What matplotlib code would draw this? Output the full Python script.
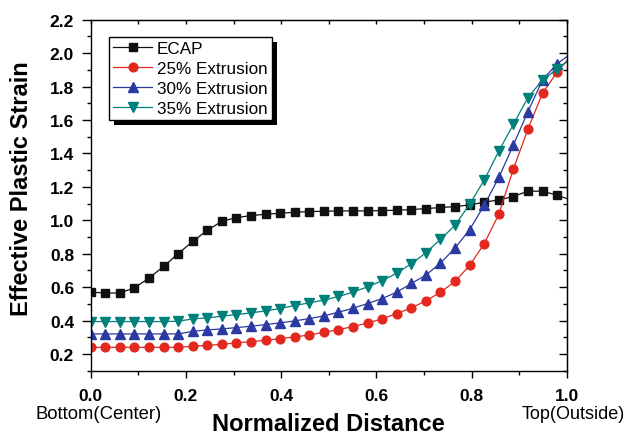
import numpy as np
import matplotlib.pyplot as plt
import matplotlib.patheffects as pe
from matplotlib.ticker import MultipleLocator, FormatStrFormatter

plt.rcParams['font.family'] = ['Liberation Sans', 'DejaVu Sans']

# normalized distance, evenly spaced nodes (last node sits just past the frame)
x = np.arange(34) * 0.0306

ecap = [0.57, 0.565, 0.565, 0.596, 0.654, 0.724, 0.80, 0.874, 0.94, 0.994,
        1.016, 1.028, 1.036, 1.042, 1.048, 1.052, 1.054, 1.056, 1.056, 1.056,
        1.058, 1.06, 1.064, 1.07, 1.076, 1.082, 1.092, 1.108, 1.122, 1.142,
        1.174, 1.174, 1.15, 1.12]
ext25 = [0.24, 0.24, 0.24, 0.24, 0.24, 0.24, 0.24, 0.246, 0.252, 0.258,
         0.266, 0.274, 0.282, 0.292, 0.302, 0.314, 0.33, 0.346, 0.364, 0.386,
         0.41, 0.442, 0.476, 0.518, 0.57, 0.634, 0.73, 0.86, 1.036, 1.306,
         1.546, 1.76, 1.886, 1.99]
ext30 = [0.32, 0.32, 0.32, 0.32, 0.32, 0.32, 0.32, 0.336, 0.344, 0.35,
         0.358, 0.366, 0.376, 0.386, 0.398, 0.412, 0.428, 0.45, 0.474, 0.502,
         0.532, 0.57, 0.622, 0.672, 0.744, 0.834, 0.944, 1.09, 1.256, 1.45,
         1.65, 1.84, 1.936, 2.0]
ext35 = [0.394, 0.394, 0.394, 0.394, 0.394, 0.394, 0.396, 0.41, 0.416, 0.426,
         0.436, 0.446, 0.458, 0.472, 0.49, 0.506, 0.522, 0.544, 0.57, 0.602,
         0.638, 0.684, 0.74, 0.806, 0.886, 0.97, 1.096, 1.24, 1.414, 1.574,
         1.734, 1.84, 1.904, 1.97]

series = [
    (ecap, 'ECAP', 's', '#111111', 5.8),
    (ext25, '25% Extrusion', 'o', '#e2281f', 6.3),
    (ext30, '30% Extrusion', '^', '#2b3aa0', 6.6),
    (ext35, '35% Extrusion', 'v', '#00807a', 6.6),
]

fig = plt.figure(figsize=(6.27, 4.35), dpi=100)
ax = fig.add_axes([0.1447, 0.1455, 0.7596, 0.8069])

for y, lab, mk, col, ms in series:
    ax.plot(x, y, color=col, lw=0.9, marker=mk, ms=ms, mfc=col, mec=col,
            markevery=slice(0, 33), label=lab)

ax.set_xlim(0, 1.0)
ax.set_ylim(0.1, 2.2)
ax.xaxis.set_major_locator(MultipleLocator(0.2))
ax.xaxis.set_minor_locator(MultipleLocator(0.1))
ax.yaxis.set_minor_locator(MultipleLocator(0.1))
ax.set_yticks([0.2, 0.4, 0.6, 0.8, 1.0, 1.2, 1.4, 1.6, 1.8, 2.0, 2.2])
ax.xaxis.set_major_formatter(FormatStrFormatter('%.1f'))
ax.yaxis.set_major_formatter(FormatStrFormatter('%.1f'))

for s in ax.spines.values():
    s.set_linewidth(1.0)

ax.tick_params(which='both', direction='out', width=1.0, labelsize=12.5)
ax.tick_params(axis='y', which='major', length=6.5, pad=5.5)
ax.tick_params(axis='y', which='minor', length=3)
ax.tick_params(axis='x', which='major', length=5, pad=7.5)
ax.tick_params(axis='x', which='minor', length=3)
for t in ax.get_xticklabels() + ax.get_yticklabels():
    t.set_fontweight('bold')

# mirrored ticks on top/right point inward
top = ax.secondary_xaxis('top')
top.xaxis.set_major_locator(MultipleLocator(0.2))
top.xaxis.set_minor_locator(MultipleLocator(0.1))
top.tick_params(which='both', direction='in', length=3, width=1.0, labeltop=False)
right = ax.secondary_yaxis('right')
right.yaxis.set_major_locator(MultipleLocator(0.2))
right.yaxis.set_minor_locator(MultipleLocator(0.1))
right.tick_params(which='major', direction='in', length=5.5, width=1.0, labelright=False)
right.tick_params(which='minor', direction='in', length=3, width=1.0)

ax.set_xlabel('Normalized Distance', fontsize=17, fontweight='bold')
ax.xaxis.set_label_coords(0.5, -0.117)
ax.set_ylabel('Effective Plastic Strain', fontsize=17, fontweight='bold',
              ha='center', va='center')
ax.yaxis.set_label_coords(-0.146, 0.522)

fig.text(0.157, 0.036, 'Bottom(Center)', fontsize=13.3, ha='center', va='baseline')
fig.text(0.914, 0.036, 'Top(Outside)', fontsize=13, ha='center', va='baseline')

leg = ax.legend(loc='upper left', bbox_to_anchor=(0.038, 0.952), borderaxespad=0,
                fontsize=12.3, handlelength=2.3, handletextpad=0.25,
                labelspacing=0.3, borderpad=0.25, fancybox=False,
                framealpha=1, edgecolor='black')
leg.get_frame().set_linewidth(1.0)
leg.get_frame().set_path_effects([
    pe.SimplePatchShadow(offset=(3.6, -3.6), shadow_rgbFace='black', alpha=1.0),
    pe.Normal()])

fig.savefig('out.png', dpi=100)
